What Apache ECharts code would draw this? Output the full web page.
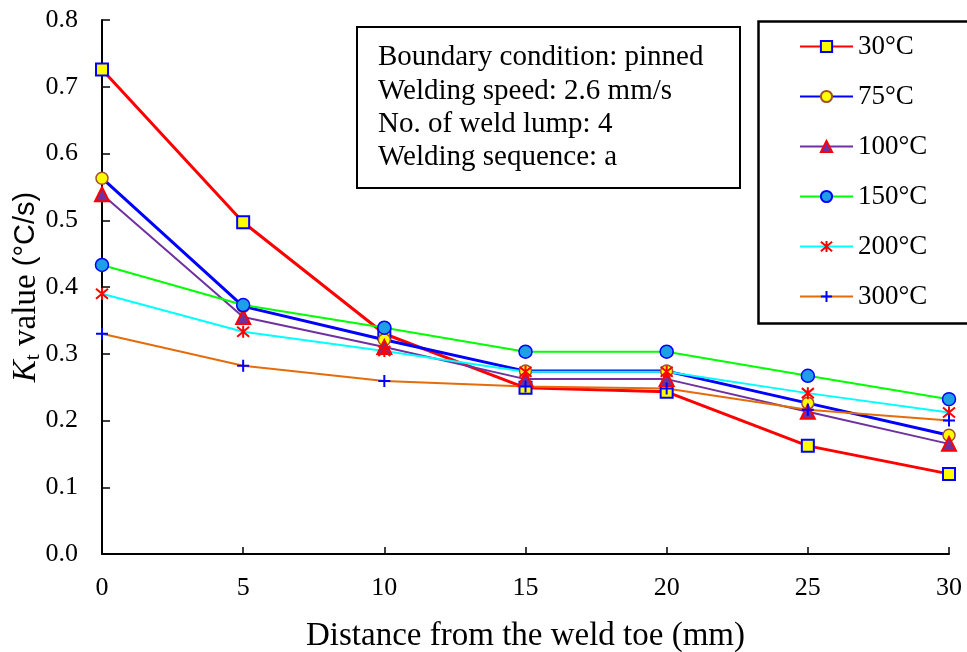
<!DOCTYPE html>
<html>
<head>
<meta charset="utf-8">
<script src="https://cdn.jsdelivr.net/npm/echarts@6/dist/echarts.min.js"></script>
<style>
  html, body { margin: 0; padding: 0; background: #fff; }
  #chart { width: 967px; height: 652px; }
</style>
</head>
<body>
<div id="chart"></div>
<script>
// Distance from the weld toe (mm)
const distances = [0, 5, 10, 15, 20, 25, 30];
// Kt value (°C/s) for each interpass temperature
const k30  = [0.726, 0.497, 0.330, 0.249, 0.243, 0.162, 0.120];
const k75  = [0.563, 0.371, 0.321, 0.274, 0.274, 0.226, 0.178];
const k100 = [0.539, 0.355, 0.310, 0.262, 0.262, 0.213, 0.165];
const k150 = [0.433, 0.373, 0.339, 0.303, 0.303, 0.267, 0.232];
const k200 = [0.390, 0.333, 0.304, 0.273, 0.273, 0.241, 0.212];
const k300 = [0.330, 0.282, 0.259, 0.251, 0.248, 0.216, 0.200];
const seriesNames = ['30°C', '75°C', '100°C', '150°C', '200°C', '300°C'];
const infoLines = [
  'Boundary condition: pinned',
  'Welding speed: 2.6 mm/s',
  'No. of weld lump: 4',
  'Welding sequence: a'
];

const SERIF = 'Liberation Serif';
const ASTERISK = 'path://M0,0L10,10M10,0L0,10M5,-1L5,11';
const PLUS = 'path://M5,0L5,10M0,5L10,5';

function pairs(vals) { return distances.map((d, i) => [d, vals[i]]); }

const styles = [
  { data: k30,  line: '#ff0000', width: 3, symbol: 'rect', size: 12, fill: '#ffff00', border: '#0000ff', bw: 2 },
  { data: k75,  line: '#0000ff', width: 3, symbol: 'circle', size: 12, fill: '#ffff00', border: '#a0522d', bw: 1.5 },
  { data: k100, line: '#7030a0', width: 2, symbol: 'triangle', size: 14, fill: '#7030a0', border: '#ff0000', bw: 2 },
  { data: k150, line: '#00ff00', width: 2, symbol: 'circle', size: 13, fill: '#1ea0e6', border: '#0000ff', bw: 1.5 },
  { data: k200, line: '#00ffff', width: 2, symbol: ASTERISK, size: 12, fill: '#ff0000', border: '#ff0000', bw: 2 },
  { data: k300, line: '#e46c0a', width: 2, symbol: PLUS, size: 12, fill: '#0000ff', border: '#0000ff', bw: 2 }
];

const series = styles.map((s, i) => ({
  name: seriesNames[i],
  type: 'line',
  data: pairs(s.data),
  symbol: s.symbol,
  symbolSize: s.size,
  showAllSymbol: true,
  lineStyle: { color: s.line, width: s.width },
  itemStyle: { color: s.fill, borderColor: s.border, borderWidth: s.bw },
  emphasis: { disabled: true },
  animation: false
}));

const chart = echarts.init(document.getElementById('chart'));
chart.setOption({
  backgroundColor: '#ffffff',
  animation: false,
  grid: { left: 102, right: 18, top: 20, bottom: 98, containLabel: false, outerBoundsMode: 'none' },
  xAxis: {
    type: 'value', min: 0, max: 30, interval: 5,
    name: 'Distance from the weld toe (mm)',
    nameLocation: 'middle', nameGap: 66,
    nameTextStyle: { fontFamily: SERIF, fontSize: 33, color: '#000' },
    axisLine: { lineStyle: { color: '#000', width: 2 } },
    axisTick: { inside: true, length: 7, lineStyle: { color: '#000', width: 1.5 } },
    axisLabel: { fontFamily: SERIF, fontSize: 26, color: '#000', margin: 21 },
    splitLine: { show: false }
  },
  yAxis: {
    type: 'value', min: 0, max: 0.8, interval: 0.1,
    name: '{i|K}{s|t}{n| value }{a|(°C/s)}',
    nameLocation: 'middle', nameGap: 58, nameRotate: 90,
    nameMoveOverlap: false,
    nameTextStyle: {
      color: '#000',
      rich: {
        i: { fontFamily: SERIF, fontSize: 33, fontStyle: 'italic', color: '#000' },
        s: { fontFamily: SERIF, fontSize: 22, color: '#000', padding: [14, 0, 0, 0] },
        n: { fontFamily: SERIF, fontSize: 33, color: '#000' },
        a: { fontFamily: 'Liberation Sans', fontSize: 29, color: '#000' }
      }
    },
    axisLine: { show: true, lineStyle: { color: '#000', width: 2 } },
    axisTick: { show: true, inside: true, length: 8, lineStyle: { color: '#000', width: 1.5 } },
    axisLabel: {
      fontFamily: SERIF, fontSize: 26, color: '#000', margin: 24,
      formatter: v => v.toFixed(1)
    },
    splitLine: { show: false }
  },
  legend: {
    orient: 'vertical',
    left: 799, top: 33, padding: 0,
    itemWidth: 53, itemHeight: 14, itemGap: 23,
    textStyle: { fontFamily: SERIF, fontSize: 27, lineHeight: 27, color: '#000' },
    data: seriesNames,
    selectedMode: false
  },
  graphic: [
    {
      type: 'rect', left: 756, top: 19,
      shape: { width: 212, height: 302 },
      style: { fill: 'none', stroke: '#000', lineWidth: 2.5 },
      z: 0
    },
    {
      type: 'rect', left: 356, top: 26,
      shape: { width: 383, height: 161 },
      style: { fill: '#fff', stroke: '#000', lineWidth: 2 },
      z: 10
    },
    ...infoLines.map((t, i) => ({
      type: 'text', left: 378, top: 43 + i * 33.4,
      style: { text: t, fontFamily: SERIF, fontSize: 29, fill: '#000' },
      z: 11
    }))
  ],
  series: series
});
</script>
</body>
</html>
